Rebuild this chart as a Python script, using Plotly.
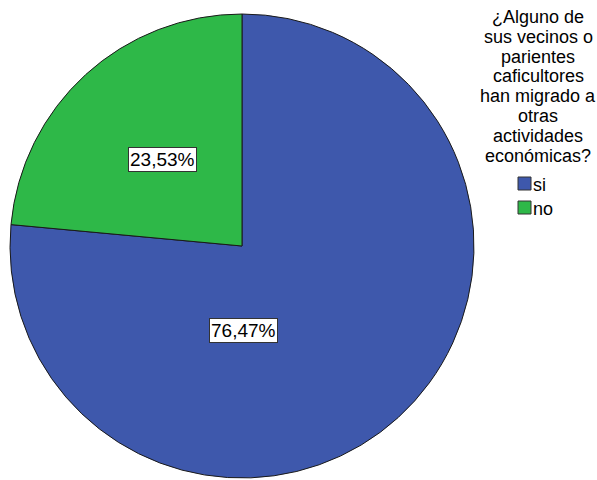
import plotly.graph_objects as go

labels = ["si", "no"]
values = [76.47, 23.53]
colors = ["#3E58AC", "#2EB848"]
title_lines = ["¿Alguno de", "sus vecinos o", "parientes", "caficultores",
               "han migrado a", "otras", "actividades", "económicas?"]

W, H = 597, 480
FONT = "Liberation Sans, Arial"

def px(x):
    return x / W

def py(y):
    return 1 - y / H

fig = go.Figure()
fig.add_trace(go.Pie(
    labels=labels, values=values, sort=False, direction="clockwise", rotation=0,
    marker=dict(colors=colors, line=dict(color="#1a1a1a", width=1)),
    textinfo="none", hoverinfo="label+percent", showlegend=False,
    domain=dict(x=[px(10), px(474)], y=[py(478), py(14)]),
))

def fmt(v):
    return f"{v:.2f}%".replace(".", ",")

# value labels
label_pos = [(243, 330), (162, 160)]
for v, (lx, ly) in zip(values, label_pos):
    fig.add_annotation(
        x=px(lx), y=py(ly), xref="paper", yref="paper",
        xanchor="center", yanchor="middle",
        text=fmt(v), showarrow=False,
        font=dict(family=FONT, size=19, color="black"),
        bgcolor="white", bordercolor="#333333", borderwidth=1, borderpad=1,
    )

# legend title (centered lines)
for i, line in enumerate(title_lines):
    fig.add_annotation(
        x=px(538), y=py(17 + i * 19.8), xref="paper", yref="paper",
        text=line, showarrow=False, xanchor="center", yanchor="middle",
        font=dict(family=FONT, size=18, color="black"),
    )

# legend items
for i, (lab, col) in enumerate(zip(labels, colors)):
    top = 177 + i * 24
    fig.add_shape(type="rect", xref="paper", yref="paper",
                  x0=px(518), x1=px(531), y0=py(top), y1=py(top + 13),
                  fillcolor=col, line=dict(color="#333333", width=1))
    fig.add_annotation(
        x=px(531), y=py(top + 8), xref="paper", yref="paper",
        text=lab, showarrow=False, xanchor="left", yanchor="middle",
        font=dict(family=FONT, size=18, color="black"),
    )

fig.update_layout(
    width=W, height=H, margin=dict(l=0, r=0, t=0, b=0),
    paper_bgcolor="white", plot_bgcolor="white",
    font=dict(family=FONT, size=18, color="black"),
    showlegend=False,
)
fig.write_html("out.html", config={"displayModeBar": False},
               post_script="document.body.style.margin='0';document.body.style.overflow='hidden';")
